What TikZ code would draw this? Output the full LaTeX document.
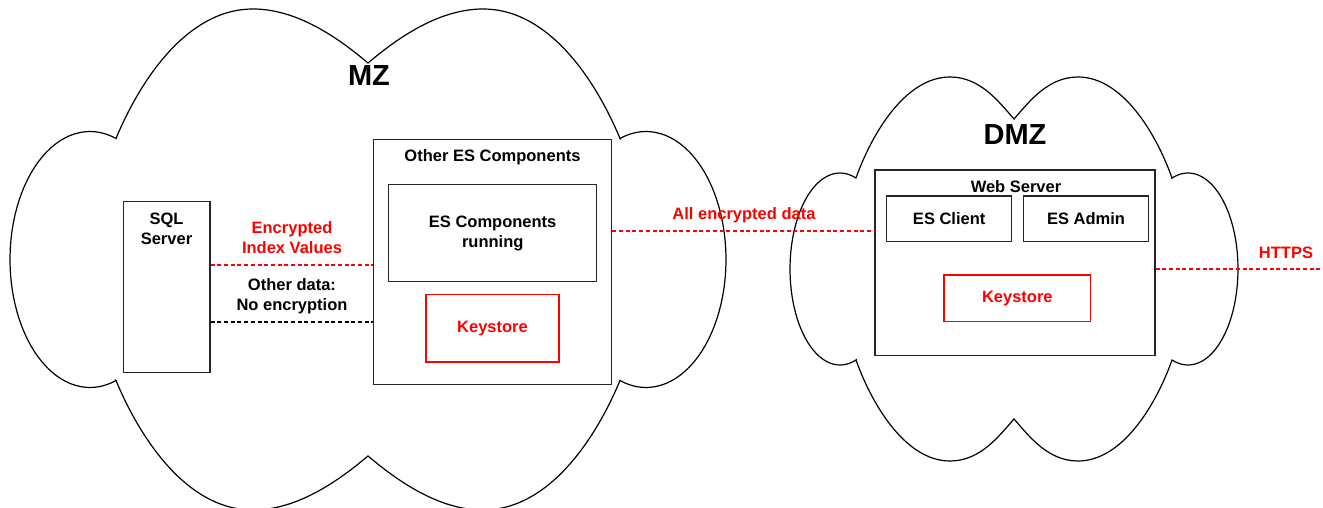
\documentclass[tikz,border=0pt]{standalone}
\usepackage{fontspec}
\setmainfont{Liberation Sans}
\begin{document}
\begin{tikzpicture}[x=1pt,y=-1pt,
  cloudline/.style={draw=black, line width=1.2pt, line join=miter},
  boxnode/.style={draw=black!85, line width=1.3pt, inner sep=0pt, align=center,
    font=\fontsize{16.5}{20}\selectfont\bfseries},
  redbox/.style={draw=red, line width=1.3pt, inner sep=0pt, text=red,
    font=\fontsize{16.5}{20}\selectfont\bfseries},
  lbl/.style={inner sep=0pt, align=center, font=\fontsize{16.5}{20}\selectfont\bfseries},
  redlbl/.style={lbl, text=red},
  zonelbl/.style={inner sep=0pt, font=\fontsize{29}{32}\selectfont\bfseries},
  reddash/.style={draw=red, line width=1.8pt, dash pattern=on 4pt off 2.7pt},
  blackdash/.style={draw=black, line width=1.8pt, dash pattern=on 4pt off 2.7pt}
]
\useasboundingbox (0,0) rectangle (1323,508);
\fill[white] (0,0) rectangle (1323,508);

% MZ cloud
\draw[cloudline]
  (116,138.5) .. controls (138.4,84.6) and (185,9) .. (253,9)
  .. controls (300,9) and (343,42) .. (368,63)
  .. controls (393,42) and (436,9) .. (483,9)
  .. controls (551,9) and (597.6,84.6) .. (620,138.5)
  -- plot[domain=0:1,samples=60,variable=\t] ({646+80*cos(109-218*\t)},{259.5-128*sin(109-218*\t)})
  -- (620,380.5) .. controls (597.6,434.4) and (551,510) .. (483,510)
  .. controls (436,510) and (393,477) .. (368,456)
  .. controls (343,477) and (300,510) .. (253,510)
  .. controls (185,510) and (138.4,434.4) .. (116,380.5)
  -- plot[domain=0:1,samples=60,variable=\t] ({90+80*cos(289-218*\t)},{259.5-128*sin(289-218*\t)})
  -- cycle;

% DMZ cloud
\draw[cloudline]
  (856,178) .. controls (871.4,134.6) and (905,77) .. (950,77)
  .. controls (980,77) and (998.6,101.4) .. (1014,119)
  .. controls (1029.4,101.4) and (1048,77) .. (1078,77)
  .. controls (1123,77) and (1156.6,134.6) .. (1172,178)
  -- plot[domain=0:1,samples=60,variable=\t] ({1188+50*cos(108.7-217.4*\t)},{269-96*sin(108.7-217.4*\t)})
  -- (1172,360) .. controls (1156.6,403.4) and (1123,461) .. (1078,461)
  .. controls (1048,461) and (1029.4,436.6) .. (1014,419)
  .. controls (998.6,436.6) and (980,461) .. (950,461)
  .. controls (905,461) and (871.4,403.4) .. (856,360)
  -- plot[domain=0:1,samples=60,variable=\t] ({840+50*cos(288.7-217.4*\t)},{269-96*sin(288.7-217.4*\t)})
  -- cycle;

% zone labels
\node[zonelbl, anchor=base] (mzlbl) at (369,86) {MZ};
\node[zonelbl, anchor=base] (dmzlbl) at (1015,145) {DMZ};

% MZ boxes
\node[boxnode, minimum width=86.3pt, minimum height=171pt] (sql) at (166.85,287.2) {};
\node[lbl] (sqllbl) at (166.5,229) {SQL\\Server};
\node[boxnode, minimum width=238.4pt, minimum height=245pt] (oes) at (492.5,261.8) {};
\node[lbl, anchor=base] (oeslbl) at (492.5,162) {Other ES Components};
\node[boxnode, minimum width=208pt, minimum height=97.4pt] (esrun) at (492.7,233) {ES Components\\running};
\node[redbox, minimum width=133pt, minimum height=67.7pt] (ksmz) at (492.5,328.2) {Keystore};

% DMZ boxes
\node[boxnode, minimum width=280pt, minimum height=185.7pt] (web) at (1015,262.85) {};
\node[lbl, anchor=base] (weblbl) at (1016,193) {Web Server};
\node[boxnode, minimum width=125pt, minimum height=45.7pt] (esclient) at (949.2,218.85) {ES Client};
\node[boxnode, minimum width=125.4pt, minimum height=45.7pt] (esadmin) at (1086,218.85) {ES Admin};
\node[redbox, minimum width=146.7pt, minimum height=46.7pt] (ksdmz) at (1017.35,298.35) {Keystore};

% connector labels
\node[redlbl] (enclbl) at (292,237.5) {Encrypted\\Index Values};
\node[lbl] (otherlbl) at (292,296) {Other data:\\No encryption};
\node[redlbl, anchor=base] (alllbl) at (744,219) {All encrypted data};
\node[redlbl, anchor=base] (httpslbl) at (1286,258) {HTTPS};

% connectors
\coordinate (encY) at (0,264.7);
\coordinate (plainY) at (0,321.7);
\coordinate (allY) at (0,231);
\coordinate (httpsY) at (0,269);
\coordinate (httpsEnd) at (1323,269);
\draw[reddash] (sql.east |- encY) -- (oes.west |- encY);
\draw[blackdash] (sql.east |- plainY) -- (oes.west |- plainY);
\draw[reddash] (oes.east |- allY) -- (web.west |- allY);
\draw[reddash] (web.east |- httpsY) -- (httpsEnd);
\end{tikzpicture}
\end{document}
